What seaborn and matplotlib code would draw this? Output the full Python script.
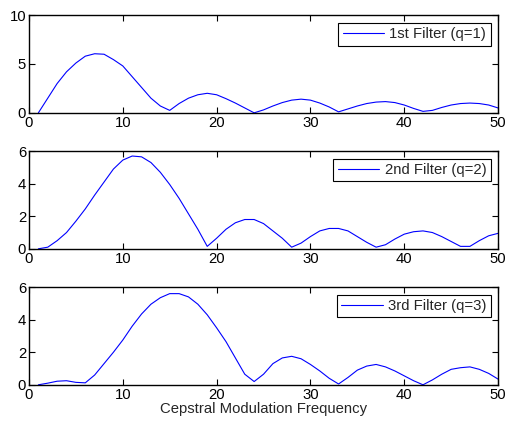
import numpy as np
import pandas as pd
import seaborn as sns
import matplotlib
matplotlib.use("Agg")
import matplotlib.pyplot as plt

# cepstral modulation frequency index
freq = list(range(1, 51))

# filter responses
q1 = [0.0, 1.5, 3.0, 4.2, 5.1, 5.8, 6.05, 6.0, 5.45, 4.8,
      3.7, 2.6, 1.5, 0.7, 0.25, 0.95, 1.5, 1.85, 2.0, 1.85,
      1.45, 1.0, 0.5, 0.0, 0.3, 0.7, 1.05, 1.3, 1.4, 1.3,
      1.0, 0.6, 0.1, 0.4, 0.7, 0.95, 1.1, 1.15, 1.05, 0.8,
      0.45, 0.15, 0.25, 0.55, 0.8, 0.95, 1.0, 0.95, 0.8, 0.5]

q2 = [0.0, 0.1, 0.5, 1.0, 1.7, 2.45, 3.3, 4.1, 4.9, 5.45,
      5.7, 5.65, 5.3, 4.7, 3.95, 3.1, 2.15, 1.2, 0.15, 0.65,
      1.2, 1.6, 1.8, 1.8, 1.55, 1.1, 0.65, 0.1, 0.35, 0.75,
      1.1, 1.25, 1.25, 1.1, 0.75, 0.4, 0.1, 0.25, 0.6, 0.9,
      1.05, 1.1, 1.0, 0.75, 0.45, 0.15, 0.15, 0.5, 0.8, 0.95]

q3 = [0.0, 0.1, 0.22, 0.25, 0.15, 0.12, 0.6, 1.3, 2.0, 2.75,
      3.6, 4.35, 4.95, 5.35, 5.6, 5.6, 5.4, 4.95, 4.3, 3.5,
      2.65, 1.65, 0.65, 0.2, 0.65, 1.3, 1.65, 1.75, 1.6, 1.25,
      0.85, 0.4, 0.05, 0.45, 0.9, 1.15, 1.25, 1.1, 0.85, 0.55,
      0.25, 0.0, 0.3, 0.65, 0.95, 1.05, 1.1, 0.95, 0.7, 0.35]

labels = ["1st Filter (q=1)", "2nd Filter (q=2)", "3rd Filter (q=3)"]
yticks = [[0, 5, 10], [0, 2, 4, 6], [0, 2, 4, 6]]
ylims = [(0, 10), (0, 6), (0, 6)]

sns.set_style("white")
plt.rcParams['font.family'] = ['Liberation Sans', 'DejaVu Sans']
fs = 10.7

fig = plt.figure(figsize=(5.06, 4.21), dpi=100)
tops = [0.964, 0.641, 0.318]
h = 0.232

for i, (vals, lab) in enumerate(zip([q1, q2, q3], labels)):
    ax = fig.add_axes([0.0573, tops[i] - h, 0.927, h])
    df = pd.DataFrame({'freq': freq, 'val': vals})
    sns.lineplot(data=df, x='freq', y='val', ax=ax, color='#0000ff',
                 linewidth=0.8, label=lab)
    ax.set_xlim(0, 50)
    ax.set_ylim(*ylims[i])
    ax.set_xticks([0, 10, 20, 30, 40, 50])
    ax.set_yticks(yticks[i])
    ax.tick_params(direction='in', length=4, width=0.8,
                   bottom=True, left=True, top=True, right=True,
                   labelsize=fs, pad=2, colors='black')
    for s in ax.spines.values():
        s.set_visible(True)
        s.set_color('black')
        s.set_linewidth(1.0)
    ax.set_xlabel('')
    ax.set_ylabel('')
    leg = ax.legend(loc='upper right', fontsize=fs, handlelength=2.8,
                    fancybox=False, framealpha=1, edgecolor='black',
                    borderpad=0.3, handletextpad=0.35, borderaxespad=0.5)
    leg.get_frame().set_linewidth(0.8)
    if i == 2:
        ax.set_xlabel('Cepstral Modulation Frequency', fontsize=fs, labelpad=0)

fig.savefig('out.png', dpi=100)
